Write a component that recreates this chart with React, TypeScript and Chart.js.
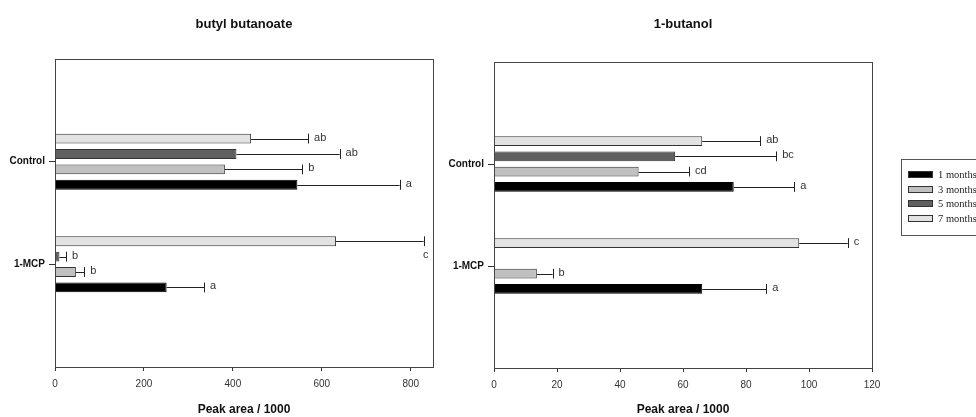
import React, { useEffect, useRef } from 'react';
import { Chart, registerables } from 'chart.js';

Chart.register(...registerables);

// ---------- data ----------
const categories = ['Control', '1-MCP'];
const seriesNames = ['1 months', '3 months', '5 months', '7 months'];
const seriesColors = ['#000000', '#c0c0c0', '#606060', '#e2e2e2'];

// butyl butanoate (Peak area / 1000), [Control, 1-MCP]
const butyl1m = [545, 251];
const butyl3m = [382, 47];
const butyl5m = [408, 10];
const butyl7m = [441, 632];
const butylErr1m = [230, 84];
const butylErr3m = [174, 19];
const butylErr5m = [232, 15];
const butylErr7m = [128, 197];
const butylLet1m = ['a', 'a'];
const butylLet3m = ['b', 'b'];
const butylLet5m = ['ab', 'b'];
const butylLet7m = ['ab', 'c'];
const butylTicks = [0, 200, 400, 600, 800];

// 1-butanol (Peak area / 1000), [Control, 1-MCP]
const butanol1m = [76.1, 66.1];
const butanol3m = [45.9, 13.6];
const butanol5m = [57.5, null];
const butanol7m = [66.1, 96.9];
const butanolErr1m = [19.2, 20.3];
const butanolErr3m = [16.0, 5.0];
const butanolErr5m = [32.1, null];
const butanolErr7m = [18.4, 15.4];
const butanolLet1m = ['a', 'a'];
const butanolLet3m = ['cd', 'b'];
const butanolLet5m = ['bc', null];
const butanolLet7m = ['ab', 'c'];
const butanolTicks = [0, 20, 40, 60, 80, 100, 120];

const FONT = "'Liberation Sans', Arial, sans-serif";

const pad = (arr: (number | string | null)[]) => [null, ...arr, null];

const errorBarPlugin = {
  id: 'errorBars',
  afterDatasetsDraw(chart: any) {
    const { ctx, chartArea } = chart;
    const xScale = chart.scales.x;
    ctx.save();
    chart.data.datasets.forEach((ds: any, di: number) => {
      const meta = chart.getDatasetMeta(di);
      meta.data.forEach((bar: any, i: number) => {
        const v = ds.data[i];
        const e = ds.errs[i];
        if (v == null || e == null) return;
        const x0 = bar.x;
        const x1 = xScale.getPixelForValue(v + e);
        const y = bar.y;
        const h = bar.height;
        ctx.strokeStyle = '#222';
        ctx.lineWidth = 1;
        ctx.beginPath();
        ctx.moveTo(x0, Math.round(y) + 0.5);
        ctx.lineTo(x1, Math.round(y) + 0.5);
        ctx.moveTo(Math.round(x1) + 0.5, y - h / 2);
        ctx.lineTo(Math.round(x1) + 0.5, y + h / 2);
        ctx.stroke();
        const t = ds.letters[i];
        if (t) {
          ctx.font = `11px ${FONT}`;
          ctx.fillStyle = '#333';
          ctx.textBaseline = 'middle';
          const w = ctx.measureText(t).width;
          if (x1 + 6 + w > chartArea.right) {
            ctx.textAlign = 'center';
            ctx.fillText(t, x1 + 2, y + h / 2 + 9);
          } else {
            ctx.textAlign = 'left';
            ctx.fillText(t, x1 + 6, y - 1);
          }
        }
      });
    });
    ctx.restore();
  },
};

const framePlugin = {
  id: 'frame',
  afterDraw(chart: any) {
    const { ctx, chartArea } = chart;
    ctx.save();
    ctx.strokeStyle = '#444';
    ctx.lineWidth = 1;
    ctx.strokeRect(
      Math.round(chartArea.left) + 0.5,
      Math.round(chartArea.top) + 0.5,
      Math.round(chartArea.right - chartArea.left),
      Math.round(chartArea.bottom - chartArea.top)
    );
    ctx.restore();
  },
};

type PanelProps = {
  title: string;
  means: (number | null)[][];
  errs: (number | null)[][];
  letters: (string | null)[][];
  ticks: number[];
  xMax: number;
  left: number;
  top: number;
  bottom: number;
  yAxisWidth: number;
  rightPad: number;
};

const W = 488;
const H = 417;

function Panel(p: PanelProps) {
  const ref = useRef<HTMLCanvasElement | null>(null);
  useEffect(() => {
    if (!ref.current) return;
    const order = [3, 2, 1, 0];
    const datasets = order.map((k) => ({
      label: seriesNames[k],
      data: pad(p.means[k]),
      errs: pad(p.errs[k]),
      letters: pad(p.letters[k]),
      backgroundColor: seriesColors[k],
      borderColor: k === 0 ? '#000' : '#333',
      borderWidth: 1,
      categoryPercentage: 0.6,
      barPercentage: 0.64,
    }));
    const titleLine = 13 * 1.2;
    const chart = new Chart(ref.current, {
      type: 'bar',
      data: { labels: ['', ...categories, ''], datasets: datasets as any },
      plugins: [errorBarPlugin, framePlugin],
      options: {
        indexAxis: 'y',
        animation: false,
        responsive: false,
        events: [],
        layout: { padding: { left: 0, right: p.rightPad, top: 0, bottom: 0 } },
        plugins: {
          legend: { display: false },
          tooltip: { enabled: false },
          title: {
            display: true,
            text: p.title,
            fullSize: false,
            color: '#111',
            font: { family: FONT, size: 13, weight: 'bold' },
            padding: { top: 17, bottom: p.top - 17 - titleLine },
          },
        },
        scales: {
          x: {
            type: 'linear',
            min: 0,
            max: p.xMax,
            afterBuildTicks: (s: any) => {
              s.ticks = p.ticks.map((v) => ({ value: v }));
            },
            afterFit: (s: any) => {
              s.height = H - p.bottom;
            },
            grid: { drawOnChartArea: false, tickLength: 4, tickColor: '#333' },
            border: { display: true, color: '#444' },
            ticks: {
              padding: 7,
              color: '#333',
              font: { family: FONT, size: 10 },
              maxRotation: 0,
            },
            title: {
              display: true,
              text: 'Peak area / 1000',
              color: '#111',
              font: { family: FONT, size: 12, weight: 'bold' },
              padding: { top: 0, bottom: 0 },
            },
          },
          y: {
            type: 'category',
            offset: false,
            afterFit: (s: any) => {
              s.width = p.yAxisWidth;
            },
            grid: {
              offset: false,
              drawOnChartArea: false,
              tickLength: 6,
              tickColor: (c: any) => (c.tick && c.tick.label ? '#333' : 'rgba(0,0,0,0)'),
            },
            border: { display: true, color: '#444' },
            ticks: {
              padding: 4,
              color: '#111',
              font: { family: FONT, size: 10, weight: 'bold' },
            },
          },
        },
      } as any,
    });
    return () => chart.destroy();
  }, []);
  return (
    <div style={{ position: 'absolute', left: p.left, top: 0, width: W, height: H }}>
      <canvas ref={ref} width={W} height={H} style={{ width: W, height: H, display: 'block' }} />
    </div>
  );
}

function Legend() {
  return (
    <div
      style={{
        position: 'absolute',
        left: 901,
        top: 159,
        width: 95,
        height: 77,
        border: '1px solid #555',
        boxSizing: 'border-box',
        paddingTop: 7,
      }}
    >
      {seriesNames.map((n, i) => (
        <div key={n} style={{ display: 'flex', alignItems: 'center', height: 14.7 }}>
          <div
            style={{
              marginLeft: 6,
              width: 25,
              height: 7,
              background: seriesColors[i],
              border: '1px solid #333',
              boxSizing: 'border-box',
            }}
          />
          <span
            style={{
              marginLeft: 5,
              fontFamily: "'Liberation Serif', 'Times New Roman', serif",
              fontSize: 10.5,
              color: '#222',
              whiteSpace: 'nowrap',
            }}
          >
            {n}
          </span>
        </div>
      ))}
    </div>
  );
}

export default function App() {
  return (
    <div
      style={{
        position: 'fixed',
        left: 0,
        top: 0,
        width: 976,
        height: 417,
        overflow: 'hidden',
        background: '#fff',
      }}
    >
      <Panel
        title="butyl butanoate"
        means={[butyl1m, butyl3m, butyl5m, butyl7m]}
        errs={[butylErr1m, butylErr3m, butylErr5m, butylErr7m]}
        letters={[butylLet1m, butylLet3m, butylLet5m, butylLet7m]}
        ticks={butylTicks}
        xMax={850}
        left={0}
        top={59}
        bottom={367}
        yAxisWidth={55}
        rightPad={55}
      />
      <Panel
        title="1-butanol"
        means={[butanol1m, butanol3m, butanol5m, butanol7m]}
        errs={[butanolErr1m, butanolErr3m, butanolErr5m, butanolErr7m]}
        letters={[butanolLet1m, butanolLet3m, butanolLet5m, butanolLet7m]}
        ticks={butanolTicks}
        xMax={120}
        left={440}
        top={62}
        bottom={368}
        yAxisWidth={54}
        rightPad={56}
      />
      <Legend />
    </div>
  );
}
